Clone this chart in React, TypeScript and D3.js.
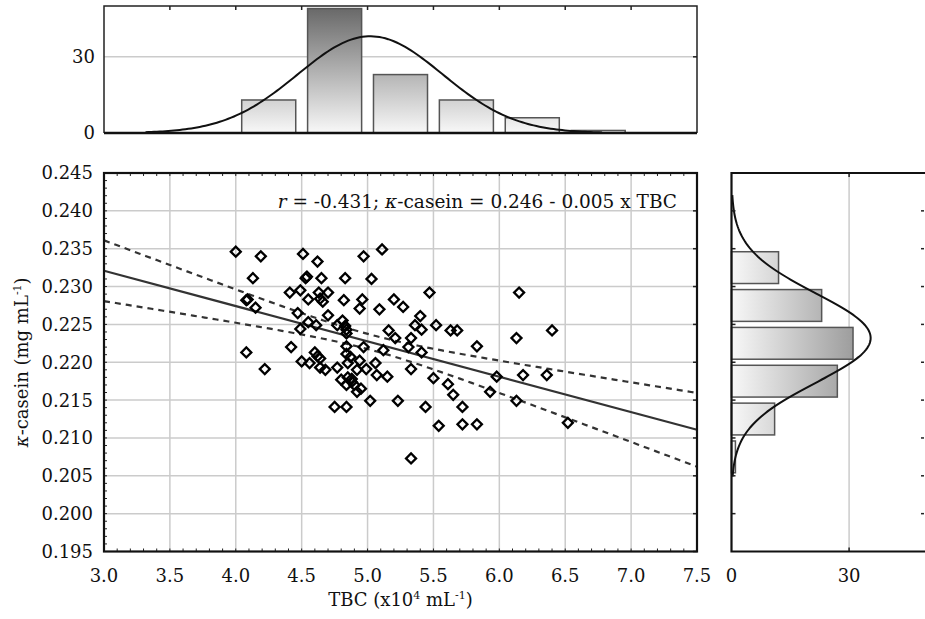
import React, { useRef, useEffect } from 'react';
import * as d3 from 'd3';

// TBC (x10^4 mL-1), kappa-casein (mg mL-1)
const samples: [number, number][] = [
  [4.00, 0.2346], [4.19, 0.2340], [4.13, 0.2311], [4.41, 0.2292], [4.49, 0.2295],
  [4.08, 0.2282], [4.09, 0.2283], [4.15, 0.2272], [4.47, 0.2265], [4.49, 0.2244],
  [4.42, 0.2220], [4.08, 0.2213], [4.22, 0.2191],
  [4.51, 0.2343], [4.62, 0.2333], [4.97, 0.2340], [4.53, 0.2311], [4.54, 0.2313],
  [4.65, 0.2311], [4.83, 0.2311], [4.63, 0.2292], [4.70, 0.2292], [4.55, 0.2283],
  [4.64, 0.2284], [4.66, 0.2280], [4.82, 0.2282], [4.96, 0.2283], [4.94, 0.2271],
  [4.70, 0.2262], [4.55, 0.2253], [4.61, 0.2249], [4.77, 0.2249], [4.81, 0.2255],
  [4.83, 0.2248], [4.84, 0.2243], [4.84, 0.2238], [4.50, 0.2201], [4.56, 0.2199],
  [4.60, 0.2213], [4.62, 0.2208], [4.64, 0.2205], [4.64, 0.2193], [4.68, 0.2190],
  [4.77, 0.2193], [4.84, 0.2221], [4.84, 0.2211], [4.87, 0.2207], [4.97, 0.2220],
  [4.94, 0.2202], [4.92, 0.2190], [4.99, 0.2191], [4.80, 0.2177], [4.85, 0.2180],
  [4.88, 0.2174], [4.84, 0.2170], [4.90, 0.2170], [4.92, 0.2161], [4.75, 0.2141],
  [4.84, 0.2141], [4.85, 0.2199], [4.88, 0.2178], [4.95, 0.2165],
  [5.11, 0.2349], [5.03, 0.2310], [5.47, 0.2292], [5.20, 0.2283], [5.27, 0.2273],
  [5.09, 0.2270], [5.40, 0.2261], [5.36, 0.2249], [5.41, 0.2243], [5.16, 0.2242],
  [5.21, 0.2232], [5.33, 0.2232], [5.12, 0.2216], [5.31, 0.2220], [5.41, 0.2213],
  [5.06, 0.2199], [5.07, 0.2183], [5.15, 0.2181], [5.33, 0.2191], [5.02, 0.2149],
  [5.23, 0.2149], [5.44, 0.2141], [5.33, 0.2073],
  [5.52, 0.2249], [5.63, 0.2242], [5.68, 0.2242], [5.83, 0.2221], [5.50, 0.2179],
  [5.61, 0.2171], [5.65, 0.2157], [5.98, 0.2181], [5.93, 0.2161], [5.72, 0.2141],
  [5.54, 0.2116], [5.72, 0.2118], [5.83, 0.2118],
  [6.15, 0.2292], [6.40, 0.2242], [6.13, 0.2232], [6.18, 0.2183], [6.36, 0.2183],
  [6.13, 0.2149], [6.52, 0.2120],
];

const tbcBins = [4.0, 4.5, 5.0, 5.5, 6.0, 6.5, 7.0];
const tbcCounts = [13, 49, 23, 13, 6, 1];
const caseinBins = [0.205, 0.21, 0.215, 0.22, 0.225, 0.23, 0.235];
const caseinCounts = [1, 11, 27, 31, 23, 12];

const xTicks = [3.0, 3.5, 4.0, 4.5, 5.0, 5.5, 6.0, 6.5, 7.0, 7.5];
const yTicks = [0.195, 0.2, 0.205, 0.21, 0.215, 0.22, 0.225, 0.23, 0.235, 0.24, 0.245];
const countTicks = [0, 30];

const fit = { intercept: 0.2461, slope: -0.00467 };
const band = { xMean: 5.02, a: 1e-6, b: 3.7e-6 };
const tbcNormal = { mean: 5.02, sd: 0.55 };
const caseinNormal = { mean: 0.2232, sd: 0.0059 };

const FONT = '"DejaVu Serif", serif';

function normalCurve(mean: number, sd: number, n: number, binWidth: number, steps = 160) {
  const pts: [number, number][] = [];
  const lo = mean - 3.1 * sd;
  const hi = mean + 3.2 * sd;
  for (let i = 0; i <= steps; i++) {
    const v = lo + ((hi - lo) * i) / steps;
    const z = (v - mean) / sd;
    pts.push([v, (n * binWidth * Math.exp(-0.5 * z * z)) / (sd * Math.sqrt(2 * Math.PI))]);
  }
  return pts;
}

function App() {
  const svgRef = useRef<SVGSVGElement>(null);

  useEffect(() => {
    document.body.style.margin = '0';
    const svg = d3.select(svgRef.current);
    svg.selectAll('*').remove();

    const main = { left: 104, right: 697, top: 173, bottom: 551.5 };
    const topH = { top: 6, bottom: 133 };
    const rightH = { left: 731.5, right: 927.5 };
    const grid = '#cbcbcb';

    const x = d3.scaleLinear().domain([3.0, 7.5]).range([main.left, main.right]);
    const y = d3.scaleLinear().domain([0.195, 0.245]).range([main.bottom, main.top]);
    const hy = d3.scaleLinear().domain([0, 50]).range([topH.bottom, topH.top]);
    const hx = d3.scaleLinear().domain([0, 50]).range([rightH.left, rightH.right]);

    const defs = svg.append('defs');
    const gTop = defs.append('linearGradient').attr('id', 'gradTop')
      .attr('gradientUnits', 'userSpaceOnUse')
      .attr('x1', 0).attr('x2', 0).attr('y1', hy(50)).attr('y2', hy(0));
    gTop.append('stop').attr('offset', 0).attr('stop-color', '#666');
    gTop.append('stop').attr('offset', 1).attr('stop-color', '#f8f8f8');
    const gRight = defs.append('linearGradient').attr('id', 'gradRight')
      .attr('gradientUnits', 'userSpaceOnUse')
      .attr('y1', 0).attr('y2', 0).attr('x1', hx(0)).attr('x2', hx(50));
    gRight.append('stop').attr('offset', 0).attr('stop-color', '#f8f8f8');
    gRight.append('stop').attr('offset', 1).attr('stop-color', '#666');

    // ---------- main scatter ----------
    const gm = svg.append('g');
    gm.selectAll('line.vgrid').data(xTicks.slice(1, -1)).enter().append('line')
      .attr('x1', d => x(d)).attr('x2', d => x(d)).attr('y1', main.top).attr('y2', main.bottom)
      .attr('stroke', grid).attr('stroke-width', 1.5);
    gm.selectAll('line.hgrid').data(yTicks.slice(1, -1)).enter().append('line')
      .attr('y1', d => y(d)).attr('y2', d => y(d)).attr('x1', main.left).attr('x2', main.right)
      .attr('stroke', grid).attr('stroke-width', 1.5);

    // minor ticks
    const xMinor = d3.range(30, 76).map(v => v / 10);
    const yMinor = d3.range(195, 246).map(v => v / 1000);
    gm.selectAll('line.xm').data(xMinor).enter().append('line')
      .attr('x1', d => x(d)).attr('x2', d => x(d)).attr('y1', main.bottom).attr('y2', main.bottom - 3)
      .attr('stroke', '#222').attr('stroke-width', 1);
    gm.selectAll('line.xmt').data(xMinor).enter().append('line')
      .attr('x1', d => x(d)).attr('x2', d => x(d)).attr('y1', main.top).attr('y2', main.top + 3)
      .attr('stroke', '#222').attr('stroke-width', 1);
    gm.selectAll('line.ym').data(yMinor).enter().append('line')
      .attr('y1', d => y(d)).attr('y2', d => y(d)).attr('x1', main.left).attr('x2', main.left + 3)
      .attr('stroke', '#222').attr('stroke-width', 1);
    gm.selectAll('line.ymr').data(yTicks).enter().append('line')
      .attr('y1', d => y(d)).attr('y2', d => y(d)).attr('x1', main.right).attr('x2', main.right - 4)
      .attr('stroke', '#222').attr('stroke-width', 1.5);

    // confidence band and fit
    const xs = d3.range(0, 101).map(i => 3.0 + (4.5 * i) / 100);
    const yFit = (v: number) => fit.intercept + fit.slope * v;
    const hw = (v: number) => Math.sqrt(band.a + band.b * (v - band.xMean) ** 2);
    const line = d3.line<[number, number]>().x(d => x(d[0])).y(d => y(d[1]));
    gm.append('path').datum(xs.map(v => [v, yFit(v) + hw(v)] as [number, number]))
      .attr('d', line).attr('fill', 'none').attr('stroke', '#333').attr('stroke-width', 2.2)
      .attr('stroke-dasharray', '6,5');
    gm.append('path').datum(xs.map(v => [v, yFit(v) - hw(v)] as [number, number]))
      .attr('d', line).attr('fill', 'none').attr('stroke', '#333').attr('stroke-width', 2.2)
      .attr('stroke-dasharray', '6,5');
    gm.append('path').datum([3.0, 7.5].map(v => [v, yFit(v)] as [number, number]))
      .attr('d', line).attr('fill', 'none').attr('stroke', '#333').attr('stroke-width', 2.2);

    const diamond = d3.symbol().type(d3.symbolSquare).size(50);
    gm.selectAll('path.pt').data(samples).enter().append('path')
      .attr('d', diamond())
      .attr('transform', d => `translate(${x(d[0])},${y(d[1])}) rotate(45)`)
      .attr('fill', 'none').attr('stroke', '#000').attr('stroke-width', 2.3);

    gm.append('rect').attr('x', main.left).attr('y', main.top)
      .attr('width', main.right - main.left).attr('height', main.bottom - main.top)
      .attr('fill', 'none').attr('stroke', '#111').attr('stroke-width', 2.2);

    gm.selectAll('text.xt').data(xTicks).enter().append('text')
      .attr('x', d => x(d)).attr('y', 582).attr('text-anchor', 'middle')
      .attr('font-family', FONT).attr('font-size', 18).attr('fill', '#111')
      .text(d => d.toFixed(1));
    gm.selectAll('text.yt').data(yTicks).enter().append('text')
      .attr('x', 93).attr('y', d => y(d)).attr('dy', '0.36em').attr('text-anchor', 'end')
      .attr('font-family', FONT).attr('font-size', 18).attr('fill', '#111')
      .text(d => d.toFixed(3));

    const xt = gm.append('text').attr('x', (main.left + main.right) / 2).attr('y', 606)
      .attr('text-anchor', 'middle').attr('font-family', FONT).attr('font-size', 18).attr('fill', '#111');
    xt.append('tspan').text('TBC (x10');
    xt.append('tspan').attr('font-size', 11).attr('dy', -7).text('4');
    xt.append('tspan').attr('dy', 7).text(' mL');
    xt.append('tspan').attr('font-size', 11).attr('dy', -7).text('-1');
    xt.append('tspan').attr('dy', 7).text(')');

    const yt = gm.append('text')
      .attr('transform', `translate(28,${(main.top + main.bottom) / 2}) rotate(-90)`)
      .attr('text-anchor', 'middle').attr('font-family', FONT).attr('font-size', 18).attr('fill', '#111');
    yt.append('tspan').attr('font-style', 'italic').text('κ');
    yt.append('tspan').text('-casein (mg mL');
    yt.append('tspan').attr('font-size', 11).attr('dy', -7).text('-1');
    yt.append('tspan').attr('dy', 7).text(')');

    const ann = gm.append('text').attr('x', 677).attr('y', 208).attr('text-anchor', 'end')
      .attr('font-family', FONT).attr('font-size', 18.5).attr('fill', '#111');
    ann.append('tspan').attr('font-style', 'italic').text('r');
    ann.append('tspan').text(' = -0.431; ');
    ann.append('tspan').attr('font-style', 'italic').text('κ');
    ann.append('tspan').text('-casein = 0.246 - 0.005 x TBC');

    const n = d3.sum(tbcCounts);

    // ---------- top histogram ----------
    const gt = svg.append('g');
    gt.append('line').attr('x1', main.left).attr('x2', main.right).attr('y1', hy(30)).attr('y2', hy(30))
      .attr('stroke', grid).attr('stroke-width', 1.5);
    const pad = 0.045;
    gt.selectAll('rect.bar').data(tbcCounts).enter().append('rect')
      .attr('x', (d, i) => x(tbcBins[i] + pad))
      .attr('width', (d, i) => x(tbcBins[i + 1] - pad) - x(tbcBins[i] + pad))
      .attr('y', d => hy(d)).attr('height', d => hy(0) - hy(d))
      .attr('fill', 'url(#gradTop)').attr('stroke', '#555').attr('stroke-width', 1.5);
    gt.append('path').datum(normalCurve(tbcNormal.mean, tbcNormal.sd, n, 0.5))
      .attr('d', d3.line<[number, number]>().x(d => x(d[0])).y(d => hy(d[1])))
      .attr('fill', 'none').attr('stroke', '#111').attr('stroke-width', 2);
    gt.selectAll('line.tt').data(xTicks.slice(1, -1)).enter().append('line')
      .attr('x1', d => x(d)).attr('x2', d => x(d)).attr('y1', topH.top).attr('y2', topH.top + 4)
      .attr('stroke', '#222').attr('stroke-width', 1.5);
    gt.append('path')
      .attr('d', `M${main.left},${topH.bottom}V${topH.top}H${main.right}V${topH.bottom}`)
      .attr('fill', 'none').attr('stroke', '#222').attr('stroke-width', 1.5);
    gt.append('line').attr('x1', main.left).attr('x2', main.right).attr('y1', topH.bottom).attr('y2', topH.bottom)
      .attr('stroke', '#111').attr('stroke-width', 2.5);
    gt.selectAll('line.ct').data([30]).enter().append('line')
      .attr('x1', main.right).attr('x2', main.right - 4).attr('y1', d => hy(d)).attr('y2', d => hy(d))
      .attr('stroke', '#222').attr('stroke-width', 1.5);
    gt.selectAll('text.ct').data(countTicks).enter().append('text')
      .attr('x', 95).attr('y', d => hy(d)).attr('dy', '0.36em').attr('text-anchor', 'end')
      .attr('font-family', FONT).attr('font-size', 18).attr('fill', '#111').text(d => d);

    // ---------- right histogram ----------
    const gr = svg.append('g');
    gr.append('line').attr('x1', hx(30)).attr('x2', hx(30)).attr('y1', main.top).attr('y2', main.bottom)
      .attr('stroke', grid).attr('stroke-width', 1.5);
    const padY = 0.0004;
    gr.selectAll('rect.bar').data(caseinCounts).enter().append('rect')
      .attr('x', hx(0))
      .attr('width', d => hx(d) - hx(0))
      .attr('y', (d, i) => y(caseinBins[i + 1] - padY))
      .attr('height', (d, i) => y(caseinBins[i] + padY) - y(caseinBins[i + 1] - padY))
      .attr('fill', 'url(#gradRight)').attr('stroke', '#555').attr('stroke-width', 1.5);
    gr.append('path').datum(normalCurve(caseinNormal.mean, caseinNormal.sd, n, 0.005))
      .attr('d', d3.line<[number, number]>().x(d => hx(d[1])).y(d => y(d[0])))
      .attr('fill', 'none').attr('stroke', '#111').attr('stroke-width', 2);
    gr.selectAll('line.lt').data(yTicks.slice(1, -1)).enter().append('line')
      .attr('x1', hx(0)).attr('x2', hx(0) + 4).attr('y1', d => y(d)).attr('y2', d => y(d))
      .attr('stroke', '#222').attr('stroke-width', 1.5);
    gr.selectAll('line.rt').data(yTicks.slice(1, -1)).enter().append('line')
      .attr('x1', 921).attr('x2', 924).attr('y1', d => y(d)).attr('y2', d => y(d))
      .attr('stroke', '#222').attr('stroke-width', 1.5);
    gr.selectAll('line.tt').data([30]).enter().append('line')
      .attr('x1', d => hx(d)).attr('x2', d => hx(d)).attr('y1', main.top).attr('y2', main.top + 4)
      .attr('stroke', '#222').attr('stroke-width', 1.5);
    gr.selectAll('line.bt').data([30]).enter().append('line')
      .attr('x1', d => hx(d)).attr('x2', d => hx(d)).attr('y1', main.bottom).attr('y2', main.bottom - 4)
      .attr('stroke', '#222').attr('stroke-width', 1.5);
    gr.append('path')
      .attr('d', `M${rightH.right},${main.top}H${hx(0)}V${main.bottom}H${rightH.right}`)
      .attr('fill', 'none').attr('stroke', '#111').attr('stroke-width', 2.2);
    gr.selectAll('text.ct').data(countTicks).enter().append('text')
      .attr('x', d => hx(d)).attr('y', 582).attr('text-anchor', 'middle')
      .attr('font-family', FONT).attr('font-size', 18).attr('fill', '#111').text(d => d);
  }, []);

  return (
    <svg
      ref={svgRef}
      width={925}
      height={619}
      viewBox="0 0 925 619"
      style={{ display: 'block', background: '#fff' }}
    />
  );
}

export default App;
